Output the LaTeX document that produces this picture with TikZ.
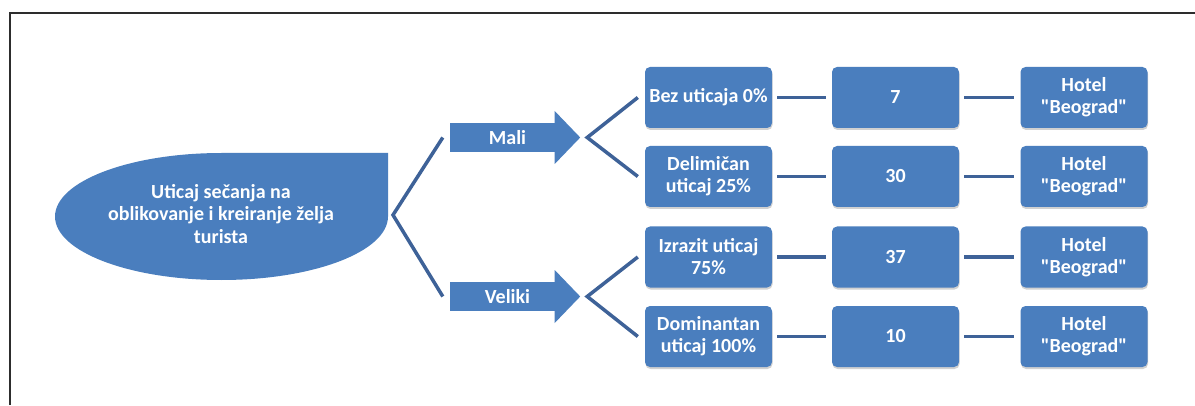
\documentclass[tikz,border=0pt]{standalone}
\usepackage{fontspec}
\setmainfont{Carlito}
\usetikzlibrary{shadows}
\definecolor{boxblue}{RGB}{74,126,190}
\definecolor{lineblue}{RGB}{62,98,152}
\definecolor{framegray}{RGB}{45,45,45}
\newcommand{\hb}{Hotel\\\textquotedbl Beograd\textquotedbl}
\begin{document}
\begin{tikzpicture}[x=1pt,y=1pt,
  txt/.style={text=white, align=center, font=\fontsize{20}{22}\selectfont\bfseries},
  box/.style={txt, fill=boxblue, rounded corners=5pt, minimum width=127pt, minimum height=61pt, inner sep=0pt,
    drop shadow={shadow xshift=0.5pt, shadow yshift=-2pt, opacity=0.18, fill=black}},
  arrowbody/.style={txt, fill=boxblue, minimum width=105pt, minimum height=29pt, inner sep=0pt},
  conn/.style={draw=lineblue, line width=3.5pt},
  frameline/.style={draw=framegray, line width=2pt}]
\useasboundingbox (0,0) rectangle (1195,405);
\fill[white] (0,0) rectangle (1195,405);
\draw[frameline] (10,0) -- (10,392) -- (1195,392);

% root shape: ellipse with square upper-right quarter
\fill[boxblue] (221.5,252) -- (388,252) -- (388,188.5)
  arc[start angle=0, end angle=-270, x radius=166.5, y radius=63.5] -- cycle;
\node[txt, font=\fontsize{20}{22.5}\selectfont\bfseries] (root) at (221,191) {Uticaj sečanja na\\oblikovanje i kreiranje želja\\turista};
\coordinate (v0) at (393,190);

% arrows
\node[arrowbody] (mali) at (502.5,267.5) {\hspace*{10pt}Mali};
\fill[boxblue] ([xshift=-0.5pt,yshift=26.5pt]mali.east) -- ([xshift=25pt]mali.east) -- ([xshift=-0.5pt,yshift=-26.5pt]mali.east) -- cycle;
\node[arrowbody] (veliki) at (502.5,108.5) {\hspace*{10pt}Veliki};
\fill[boxblue] ([xshift=-0.5pt,yshift=26.5pt]veliki.east) -- ([xshift=25pt]veliki.east) -- ([xshift=-0.5pt,yshift=-26.5pt]veliki.east) -- cycle;
\coordinate (vm) at ([xshift=32pt]mali.east);
\coordinate (vv) at ([xshift=32pt]veliki.east);

% boxes
\node[box] (b11) at (708.5,307.5) {Bez uticaja 0\%};
\node[box] (b12) at (895.5,307.5) {7};
\node[box] (b13) at (1084,307.5) {\hb};
\node[box] (b21) at (708.5,228.5) {Delimičan\\uticaj 25\%};
\node[box] (b22) at (895.5,228.5) {30};
\node[box] (b23) at (1084,228.5) {\hb};
\node[box] (b31) at (708.5,148) {Izrazit uticaj\\75\%};
\node[box] (b32) at (895.5,148) {37};
\node[box] (b33) at (1084,148) {\hb};
\node[box] (b41) at (708.5,68.5) {Dominantan\\uticaj 100\%};
\node[box] (b42) at (895.5,68.5) {10};
\node[box] (b43) at (1084,68.5) {\hb};

% brackets
\draw[conn] ([xshift=-7pt]mali.west) -- (v0) -- ([xshift=-7pt]veliki.west);
\draw[conn] ([xshift=-7pt]b11.west) -- (vm) -- ([xshift=-7pt]b21.west);
\draw[conn] ([xshift=-7pt]b31.west) -- (vv) -- ([xshift=-7pt]b41.west);

% row connectors
\foreach \r in {1,2,3,4}{
  \draw[conn, shorten <=5pt, shorten >=6pt] (b\r1) -- (b\r2);
  \draw[conn, shorten <=5pt, shorten >=6pt] (b\r2) -- (b\r3);
}
\end{tikzpicture}
\end{document}
